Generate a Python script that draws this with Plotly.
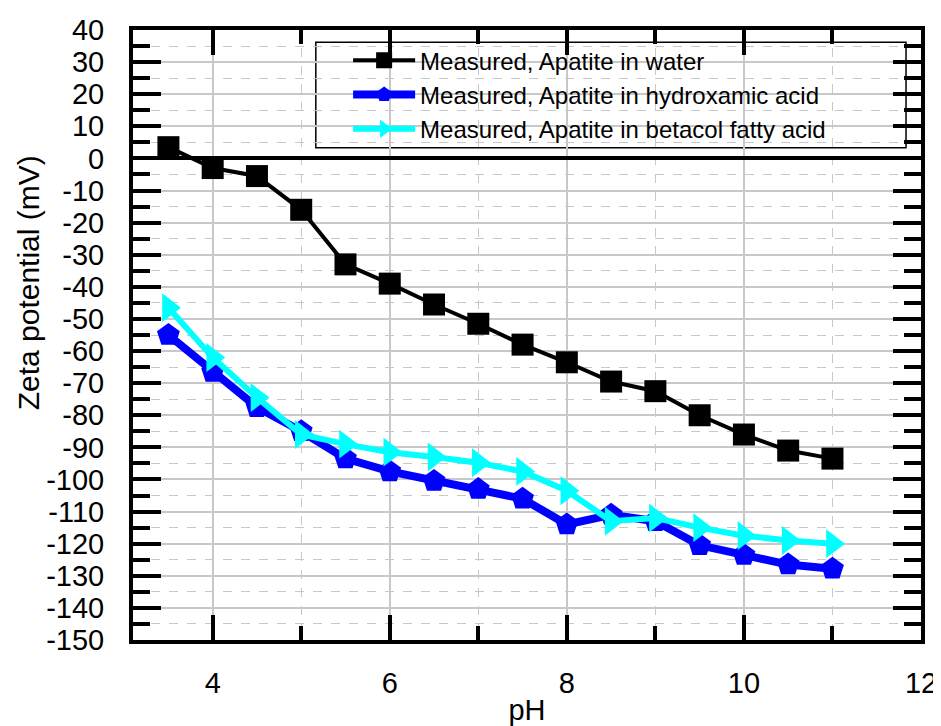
import plotly.graph_objects as go

ph = [3.5, 4.0, 4.5, 5.0, 5.5, 6.0, 6.5, 7.0, 7.5, 8.0, 8.5, 9.0, 9.5, 10.0, 10.5, 11.0]
water = [3.5, -3, -5.5, -16, -33, -39, -45.5, -51.5, -58, -63.5, -69.5, -72.5, -80, -86, -91, -93.5]
hydroxamic = [-55, -66.5, -77.5, -85, -93.5, -97.5, -100.5, -103, -106, -114, -111, -113, -120.5, -123.5, -126.5, -127.8]
betacol = [-46.5, -62, -74.5, -86, -89, -91.5, -93, -94.8, -97.5, -103.5, -113, -112, -115, -117.5, -119, -120]

names = ["Measured, Apatite in water",
         "Measured, Apatite in hydroxamic acid",
         "Measured, Apatite in betacol fatty acid"]

y_ticks = list(range(-150, 41, 10))
y_ticktext = [str(v) for v in y_ticks]  # plain hyphen minus like the original

font = "Liberation Sans, Arial, sans-serif"

fig = go.Figure()
fig.add_trace(go.Scatter(x=ph, y=water, name=names[0], mode="lines+markers",
                         line=dict(color="black", width=4),
                         marker=dict(symbol="square", size=22, color="black")))
fig.add_trace(go.Scatter(x=ph, y=hydroxamic, name=names[1], mode="lines+markers",
                         line=dict(color="#0000ff", width=8),
                         marker=dict(symbol="pentagon", size=24, color="#0000ff")))
fig.add_trace(go.Scatter(x=ph, y=betacol, name=names[2], mode="lines+markers",
                         line=dict(color="#00ffff", width=6),
                         marker=dict(symbol="triangle-right", size=25, color="#00ffff")))

# legend frame
fig.add_shape(type="rect", xref="paper", yref="paper",
              x0=0.232, x1=0.981, y0=0.807, y1=0.980,
              line=dict(color="black", width=1.5), fillcolor="white", layer="below")

# y title sits a bit above the axis centre in the original
fig.add_annotation(text="Zeta potential (mV)", xref="paper", yref="paper",
                   x=-0.133, y=0.585, xanchor="center", yanchor="middle",
                   textangle=-90, showarrow=False,
                   font=dict(size=30, color="black", family=font))

axis_common = dict(showline=True, linecolor="black", linewidth=4, mirror="allticks",
                   ticks="inside", tickcolor="black", tickwidth=4, automargin=False,
                   ticklabeloverflow="allow",
                   showgrid=True, gridcolor="#c8c8c8", gridwidth=1.5,
                   tickfont=dict(size=29, color="black", family=font))

fig.update_xaxes(range=[3.1, 12], tick0=0, dtick=2, ticklen=25,
                 title=dict(text="pH", font=dict(size=29, color="black", family=font), standoff=9),
                 ticklabelstandoff=14,
                 minor=dict(dtick=1, ticklen=14, tickwidth=4, tickcolor="black", ticks="inside",
                            showgrid=True, gridcolor="#c8c8c8", griddash="dash", gridwidth=1),
                 zeroline=False, **axis_common)
fig.update_yaxes(range=[-150, 40], tickmode="array", tickvals=y_ticks, ticktext=y_ticktext,
                 ticklen=28, ticklabelstandoff=19,
                 minor=dict(dtick=5, ticklen=17, tickwidth=4, tickcolor="black", ticks="inside",
                            showgrid=True, gridcolor="#c8c8c8", griddash="dash", gridwidth=1),
                 zeroline=True, zerolinecolor="black", zerolinewidth=4, **axis_common)

# page body adds an 8px offset at top-left
fig.update_layout(
    width=933, height=718,
    margin=dict(l=125, r=20, t=22, b=86),
    paper_bgcolor="white", plot_bgcolor="white",
    font=dict(family=font, color="black"),
    showlegend=True,
    legend=dict(x=0.273, y=0.9865, xanchor="left", yanchor="top",
                bgcolor="rgba(0,0,0,0)", borderwidth=0, itemwidth=62,
                font=dict(size=24, color="black", family=font),
                tracegroupgap=0),
)

fig.write_html("out.html")
